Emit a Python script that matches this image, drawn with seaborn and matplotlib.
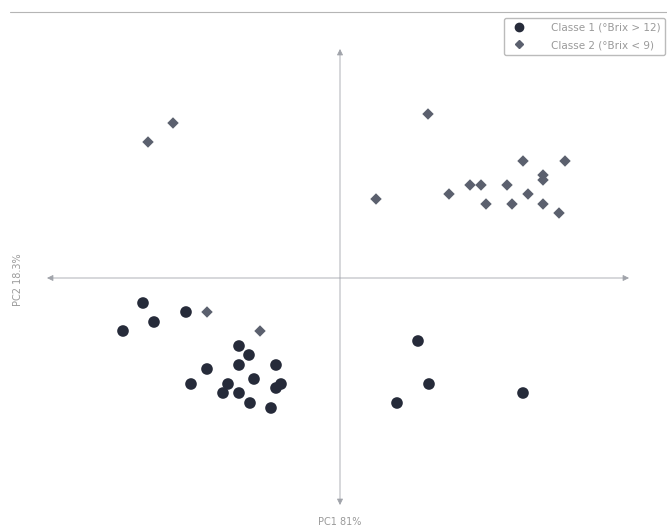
import matplotlib
matplotlib.use("Agg")
import matplotlib.pyplot as plt
from matplotlib.lines import Line2D
import seaborn as sns
import pandas as pd

# PCA scores (PC1, PC2)
pc1_classe1 = [-19.7, -15.4, -18.6, -21.7, -10.1, -9.1, -10.1, -6.4, -13.3, -8.6,
               -14.9, -11.2, -5.9, -6.4, -11.7, -10.1, -9.0, -6.9,
               7.8, 8.9, 5.7, 18.3]
pc2_classe1 = [-2.5, -3.4, -4.4, -5.3, -6.8, -7.7, -8.7, -8.7, -9.1, -10.1,
               -10.6, -10.6, -10.6, -11.0, -11.5, -11.5, -12.5, -13.0,
               -6.3, -10.6, -12.5, -11.5]
pc1_classe2 = [8.8, 18.3, 22.5, 20.3, 20.3, 13.0, 14.1, 16.7, 10.9, 18.8,
               3.6, 14.6, 17.2, 20.3, 21.9, -19.2, -16.7, -13.3, -8.0]
pc2_classe2 = [16.4, 11.7, 11.7, 10.3, 9.8, 9.3, 9.3, 9.3, 8.4, 8.4,
               7.9, 7.4, 7.4, 7.4, 6.5, 13.6, 15.5, -3.4, -5.3]

legend_labels = ["Classe 1 (°Brix > 12)", "Classe 2 (°Brix < 9)"]
pc1_label = "PC1 81%"
pc2_label = "PC2 18.3%"
colors = ["#262b3a", "#5b606e"]

df = pd.DataFrame({
    "PC1": pc1_classe1 + pc1_classe2,
    "PC2": pc2_classe1 + pc2_classe2,
    "Classe": [legend_labels[0]] * len(pc1_classe1) + [legend_labels[1]] * len(pc1_classe2),
})

sns.set_style("white")
plt.rcParams["font.family"] = ["DejaVu Sans"]

fig = plt.figure(figsize=(6.67, 5.31), dpi=100)
ax = fig.add_axes([0, 0, 1, 1])
ax.set_xlim(-34, 32.7)
ax.set_ylim(-25.3, 27.8)
ax.axis("off")

grey = "#9a9a9a"
# axes drawn as double arrows through the origin
arrow = dict(arrowstyle="<|-|>", color="#a0a3aa", lw=0.6,
             mutation_scale=9, shrinkA=0, shrinkB=0)
ax.annotate("", xy=(28.9, 0), xytext=(-29.3, 0), arrowprops=arrow)
ax.annotate("", xy=(0, 22.9), xytext=(0, -22.7), arrowprops=arrow)
ax.plot([-33, 32.7], [26.6, 26.6], color="#b5b5b5", lw=0.8)

sns.scatterplot(data=df, x="PC1", y="PC2", hue="Classe", style="Classe",
                markers={legend_labels[0]: "o", legend_labels[1]: "D"},
                palette=dict(zip(legend_labels, colors)),
                s=70, linewidth=0, ax=ax, legend=False)
# diamonds are smaller than circles
ax.collections[-1].set_sizes([70 if c == legend_labels[0] else 34 for c in df["Classe"]])

ax.text(0, -24.4, pc1_label, ha="center", va="center", fontsize=7, color=grey)
ax.text(-32.2, -0.2, pc2_label, ha="center", va="center", rotation=90, fontsize=7, color=grey)

handles = [Line2D([], [], marker="o", ls="", color=colors[0], markersize=6),
           Line2D([], [], marker="D", ls="", color=colors[1], markersize=4)]
leg = ax.legend(handles, legend_labels, loc="upper right", bbox_to_anchor=(0.997, 0.966),
                fontsize=7.5, frameon=True, fancybox=True, edgecolor="#aaaaaa",
                borderpad=0.45, labelspacing=0.7, handletextpad=2.0, borderaxespad=0)
for t in leg.get_texts():
    t.set_color(grey)

fig.savefig("out.png", dpi=100)
